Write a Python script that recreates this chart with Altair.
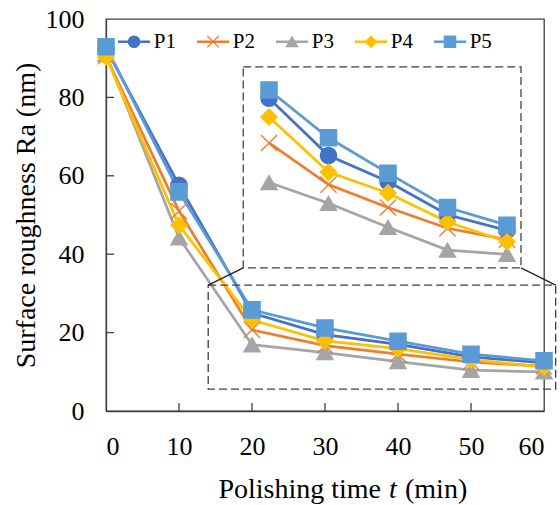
import altair as alt
import pandas as pd

# ---- data -----------------------------------------------------------------
series = ["P1", "P2", "P3", "P4", "P5"]
colors = ["#4472C4", "#ED7D31", "#A5A5A5", "#FFC000", "#5B9BD5"]
times = [0, 10, 20, 30, 40, 50, 60]
ra_p1 = [92.5, 57.6, 25.0, 19.5, 17.0, 13.8, 12.3]
ra_p2 = [90.5, 51.0, 20.7, 16.7, 14.5, 12.5, 11.4]
ra_p3 = [91.0, 44.2, 16.9, 14.9, 12.6, 10.4, 10.0]
ra_p4 = [90.3, 47.4, 23.2, 17.9, 15.9, 13.1, 11.2]
ra_p5 = [92.9, 55.9, 25.8, 21.2, 17.8, 14.5, 12.8]
x_ticks = [0, 10, 20, 30, 40, 50, 60]
y_ticks = [0, 20, 40, 60, 80, 100]

ra_all = [ra_p1, ra_p2, ra_p3, ra_p4, ra_p5]
rows = []
for s, vals in zip(series, ra_all):
    for t, v in zip(times, vals):
        rows.append({"series": s, "t": t, "ra": v})
df = pd.DataFrame(rows)

# ---- styling ----------------------------------------------------------------
FONT = "Liberation Serif"
AX = "#404040"
X_CROSS = "M-1,-1L1,1M-1,1L1,-1"
shapes = ["circle", X_CROSS, "triangle-up", "diamond", "square"]

x_scale = alt.Scale(domain=[0, 60], nice=False)
y_scale = alt.Scale(domain=[0, 100], nice=False)
color_scale = alt.Scale(domain=series, range=colors)
shape_scale = alt.Scale(domain=series, range=shapes)

x_axis = alt.Axis(values=x_ticks, ticks=False, grid=False, title="",
                  labelPadding=22)
y_axis = alt.Axis(values=y_ticks, ticks=False, grid=False,
                  title="Surface roughness Ra (nm)", titlePadding=5,
                  labelPadding=22)


def X(field):
    return alt.X(field, type="quantitative", scale=x_scale, axis=x_axis)


def Y(field):
    return alt.Y(field, type="quantitative", scale=y_scale, axis=y_axis)


# inset: the 20-60 min range re-scaled into the upper-right panel
IX0, IXK = 22.33, 0.815     # inset x origin (t = 20) and stretch
IV0, IY0, IYK = 25.8, 81.9, 2.653  # inset y reference value, position, stretch
zoom_box = {"x": 14.0, "x2": 61.6, "y": 5.6, "y2": 32.1}
inset_box = {"x": 18.8, "x2": 56.85, "y": 36.5, "y2": 87.8}

base = alt.Chart(df)

lines = base.mark_line(strokeWidth=2.75).encode(
    x=X("t"), y=Y("ra"),
    color=alt.Color("series:N", scale=color_scale, legend=None),
)

points = base.mark_point(filled=True, opacity=1, size=260, strokeWidth=1.4).encode(
    x=X("t"), y=Y("ra"),
    fill=alt.Fill("series:N", scale=color_scale, legend=None),
    stroke=alt.Stroke("series:N", scale=color_scale, legend=None),
    shape=alt.Shape("series:N", scale=shape_scale, legend=None),
)

inset_base = base.transform_filter("datum.t >= 20").transform_calculate(
    ix=f"{IX0} + (datum.t - 20) * {IXK}",
    iy=f"{IY0} + (datum.ra - {IV0}) * {IYK}",
)
inset_lines = inset_base.mark_line(strokeWidth=2.75).encode(
    x=X("ix"), y=Y("iy"),
    color=alt.Color("series:N", scale=color_scale, legend=None),
)
inset_points = inset_base.mark_point(filled=True, opacity=1, size=260, strokeWidth=1.4).encode(
    x=X("ix"), y=Y("iy"),
    fill=alt.Fill("series:N", scale=color_scale, legend=None),
    stroke=alt.Stroke("series:N", scale=color_scale, legend=None),
    shape=alt.Shape("series:N", scale=shape_scale, legend=None),
)

boxes = alt.Chart(pd.DataFrame([zoom_box, inset_box])).mark_rect(
    fill="transparent", stroke=AX, strokeWidth=1.3, strokeDash=[8, 4]
).encode(x=X("x"), x2="x2:Q", y=Y("y"), y2="y2:Q")

connectors = alt.Chart(pd.DataFrame([
    {"x": inset_box["x"], "y": inset_box["y"], "x2": zoom_box["x"], "y2": zoom_box["y2"]},
    {"x": inset_box["x2"], "y": inset_box["y"], "x2": zoom_box["x2"], "y2": zoom_box["y2"]},
])).mark_rule(color="#222222", strokeWidth=1.3).encode(
    x=X("x"), x2="x2:Q", y=Y("y"), y2="y2:Q",
)

# inward tick marks on both axes
y_tick_marks = alt.Chart(pd.DataFrame({"v": y_ticks[1:-1]})).mark_rule(
    color=AX, strokeWidth=1.3
).encode(y=Y("v"), x=alt.value(0), x2=alt.value(8))
x_tick_marks = alt.Chart(pd.DataFrame({"v": x_ticks[1:-1]})).mark_rule(
    color=AX, strokeWidth=1.3
).encode(x=X("v"), y=alt.value(392), y2=alt.value(384))

# legend row inside the plot
LEG_Y, LEG_X0, LEG_STEP = 94.2, 1.64, 10.82
leg = pd.DataFrame({
    "series": series,
    "lx0": [LEG_X0 + i * LEG_STEP for i in range(5)],
    "lx1": [LEG_X0 + 4.4 + i * LEG_STEP for i in range(5)],
    "lm": [LEG_X0 + 2.2 + i * LEG_STEP for i in range(5)],
    "lt": [LEG_X0 + 4.9 + i * LEG_STEP for i in range(5)],
    "ly": [LEG_Y] * 5,
})
leg_base = alt.Chart(leg)
leg_lines = leg_base.mark_rule(strokeWidth=2.5).encode(
    x=X("lx0"), x2="lx1:Q", y=Y("ly"),
    color=alt.Color("series:N", scale=color_scale, legend=None),
)
leg_points = leg_base.mark_point(filled=True, opacity=1, size=130, strokeWidth=1.2).encode(
    x=X("lm"), y=Y("ly"),
    fill=alt.Fill("series:N", scale=color_scale, legend=None),
    stroke=alt.Stroke("series:N", scale=color_scale, legend=None),
    shape=alt.Shape("series:N", scale=shape_scale, legend=None),
)
leg_text = leg_base.mark_text(align="left", baseline="middle", font=FONT,
                              fontSize=21, color="black").encode(
    x=X("lt"), y=Y("ly"), text="series:N",
)

# x-axis title with an italic time symbol
one = pd.DataFrame({"a": [0]})
xt1 = alt.Chart(one).mark_text(text="Polishing time", align="right", baseline="middle",
                               font=FONT, fontSize=28, color="black").encode(
    x=alt.value(275), y=alt.value(471))
xt2 = alt.Chart(one).mark_text(text="t", align="center", baseline="middle",
                               font=FONT, fontSize=28, fontStyle="italic", color="black").encode(
    x=alt.value(287), y=alt.value(471))
xt3 = alt.Chart(one).mark_text(text="(min)", align="left", baseline="middle",
                               font=FONT, fontSize=28, color="black").encode(
    x=alt.value(299), y=alt.value(471))

chart = alt.layer(
    lines, boxes, connectors, y_tick_marks, x_tick_marks,
    points, inset_lines, inset_points,
    leg_lines, leg_points, leg_text, xt1, xt2, xt3,
).properties(
    width=438, height=392,
    autosize=alt.AutoSizeParams(type="none"),
    padding={"left": 106, "top": 19, "right": 16, "bottom": 94},
    background="white",
).configure_view(
    stroke=AX, strokeWidth=1.3
).configure_axis(
    labelFont=FONT, labelFontSize=26, labelColor="black",
    titleFont=FONT, titleFontSize=28, titleFontWeight="normal", titleColor="black",
    domainColor=AX, domainWidth=1.3,
)

chart.save("out.html", embed_options={"renderer": "svg", "actions": False})
